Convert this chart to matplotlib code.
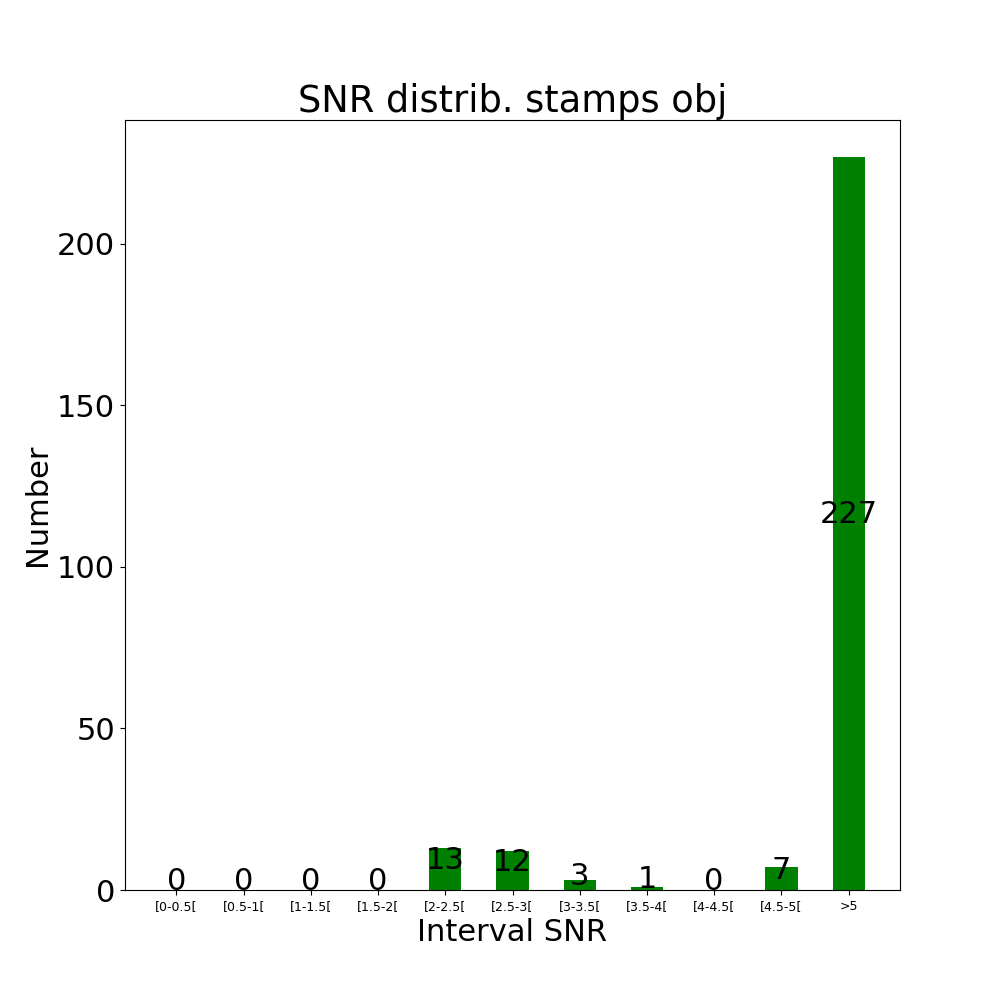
import matplotlib

matplotlib.use("Agg")

import matplotlib.pyplot as plt

categories = ["[0-0.5[", "[0.5-1[", "[1-1.5[", "[1.5-2[", "[2-2.5[", "[2.5-3[",
              "[3-3.5[", "[3.5-4[", "[4-4.5[", "[4.5-5[", ">5"]
counts = [0, 0, 0, 0, 13, 12, 3, 1, 0, 7, 227]

fig = plt.figure(figsize=(10, 10), dpi=100)
ax = fig.add_subplot(111)
x = list(range(len(categories)))
ax.bar(x, counts, width=0.48, color="green")
for xi, c in zip(x, counts):
    ax.text(xi, c / 2, str(c), ha="center", fontsize=22)
ax.set_xticks(x)
ax.set_xticklabels(categories, fontsize=9)
ax.tick_params(axis="y", labelsize=22)
ax.set_xlabel("Interval SNR", fontsize=22)
ax.set_ylabel("Number", fontsize=22)
ax.set_title("SNR distrib. stamps obj", fontsize=26.5)
fig.savefig("out.png")
